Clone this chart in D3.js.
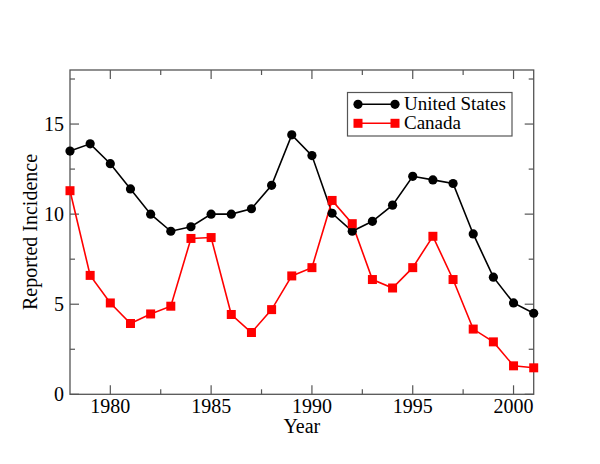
<!DOCTYPE html>
<html><head><meta charset="utf-8">
<script src="https://cdn.jsdelivr.net/npm/d3@7"></script>
<style>body{margin:0;background:#fff}</style>
</head><body>
<svg id="c" width="600" height="464"></svg>
<script>
const years = d3.range(1978, 2002);
const usValues = [13.5,13.9,12.8,11.4,10.0,9.05,9.3,10.0,10.0,10.3,11.6,14.4,13.25,10.05,9.05,9.6,10.5,12.1,11.9,11.7,8.9,6.5,5.07,4.5];
const canadaValues = [11.3,6.6,5.07,3.93,4.46,4.89,8.65,8.7,4.43,3.43,4.7,6.57,7.03,10.76,9.47,6.37,5.9,7.03,8.77,6.37,3.62,2.91,1.58,1.47];
const xTicks = [1980,1985,1990,1995,2000];
const yTicks = [0,5,10,15];
const seriesNames = ["United States","Canada"];

const svg = d3.select("#c");
const L=70, R=533.7, T=70, B=394.3;
const x = d3.scaleLinear().domain([1978,2001]).range([L,R]);
const y = d3.scaleLinear().domain([0,18]).range([B,T]);
const font = "'Liberation Serif','Times New Roman',serif";
const axisCol = "#555";

// frame
svg.append("rect").attr("x",L).attr("y",T).attr("width",R-L).attr("height",B-T)
  .attr("fill","none").attr("stroke",axisCol).attr("stroke-width",1.3);

const xMinor = d3.range(1982.5, 2001, 5);
const yMinor = [2.5,7.5,12.5,17.5];
const g = svg.append("g").attr("stroke",axisCol).attr("stroke-width",1.2);
xTicks.forEach(v=>{
  g.append("line").attr("x1",x(v)).attr("x2",x(v)).attr("y1",B).attr("y2",B-9);
  g.append("line").attr("x1",x(v)).attr("x2",x(v)).attr("y1",T).attr("y2",T+9);
});
xMinor.forEach(v=>{
  g.append("line").attr("x1",x(v)).attr("x2",x(v)).attr("y1",B).attr("y2",B-5);
  g.append("line").attr("x1",x(v)).attr("x2",x(v)).attr("y1",T).attr("y2",T+5);
});
yTicks.forEach(v=>{
  g.append("line").attr("y1",y(v)).attr("y2",y(v)).attr("x1",L).attr("x2",L+9);
  g.append("line").attr("y1",y(v)).attr("y2",y(v)).attr("x1",R).attr("x2",R-9);
});
yMinor.forEach(v=>{
  g.append("line").attr("y1",y(v)).attr("y2",y(v)).attr("x1",L).attr("x2",L+5);
  g.append("line").attr("y1",y(v)).attr("y2",y(v)).attr("x1",R).attr("x2",R-5);
});

svg.selectAll(".xt").data(xTicks).enter().append("text")
  .attr("x",d=>x(d)).attr("y",B+19).attr("text-anchor","middle")
  .attr("font-family",font).attr("font-size",20).attr("fill","#000").text(d=>d);
svg.selectAll(".yt").data(yTicks).enter().append("text")
  .attr("x",L-6).attr("y",d=>y(d)+7).attr("text-anchor","end")
  .attr("font-family",font).attr("font-size",20).attr("fill","#000").text(d=>d);

svg.append("text").attr("x",(L+R)/2).attr("y",433).attr("text-anchor","middle")
  .attr("font-family",font).attr("font-size",20).text("Year");
svg.append("text").attr("transform",`translate(37,232) rotate(-90)`).attr("text-anchor","middle")
  .attr("font-family",font).attr("font-size",20).text("Reported Incidence");

const line = d3.line().x((d,i)=>x(years[i])).y(d=>y(d));
svg.append("path").datum(usValues).attr("d",line).attr("fill","none").attr("stroke","#000").attr("stroke-width",1.6);
svg.append("path").datum(canadaValues).attr("d",line).attr("fill","none").attr("stroke","#f00").attr("stroke-width",1.6);
svg.selectAll(".us").data(usValues).enter().append("circle")
  .attr("cx",(d,i)=>x(years[i])).attr("cy",d=>y(d)).attr("r",4.6).attr("fill","#000");
const s=9;
svg.selectAll(".ca").data(canadaValues).enter().append("rect")
  .attr("x",(d,i)=>x(years[i])-s/2).attr("y",d=>y(d)-s/2).attr("width",s).attr("height",s).attr("fill","#f00");

// legend
const lg = svg.append("g");
lg.append("rect").attr("x",347.5).attr("y",92.5).attr("width",164.5).attr("height",43.5)
  .attr("fill","#fff").attr("stroke",axisCol).attr("stroke-width",1.2);
const rows=[{n:seriesNames[0],c:"#000",m:"c",yy:104.3},{n:seriesNames[1],c:"#f00",m:"s",yy:123.3}];
rows.forEach(r=>{
  lg.append("line").attr("x1",358).attr("x2",395).attr("y1",r.yy).attr("y2",r.yy).attr("stroke",r.c).attr("stroke-width",1.6);
  [358,395].forEach(px=>{
    if(r.m==="c") lg.append("circle").attr("cx",px).attr("cy",r.yy).attr("r",4.6).attr("fill",r.c);
    else lg.append("rect").attr("x",px-s/2).attr("y",r.yy-s/2).attr("width",s).attr("height",s).attr("fill",r.c);
  });
  lg.append("text").attr("x",404).attr("y",r.yy+6).attr("font-family",font).attr("font-size",19).text(r.n);
});
</script>
</body></html>
